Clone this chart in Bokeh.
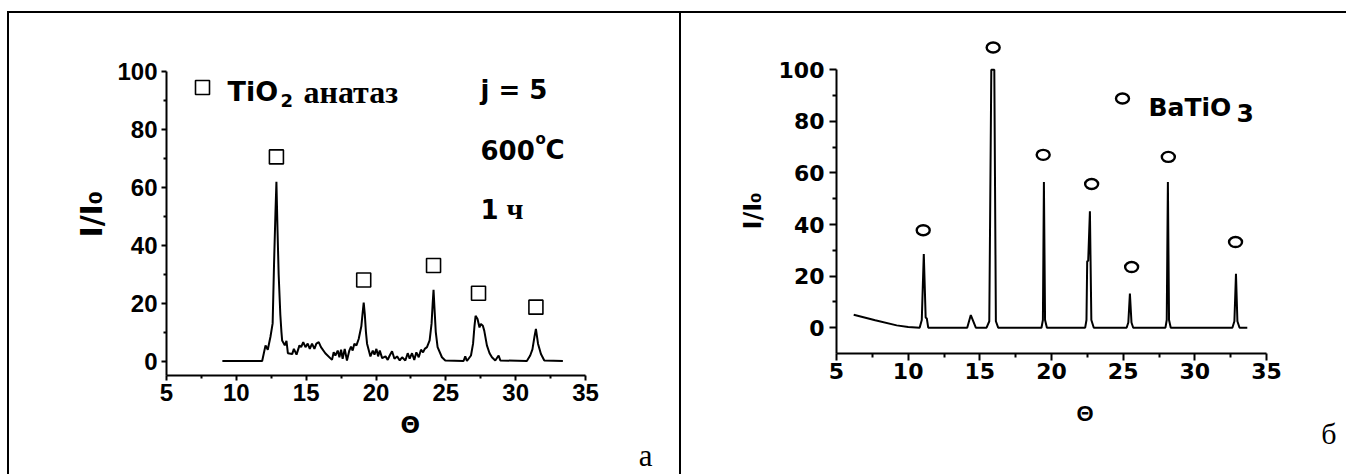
from bokeh.plotting import figure
from bokeh.layouts import row
from bokeh.models import Range1d, FixedTicker, Label, Title
from bokeh.embed import file_html
from bokeh.resources import INLINE

# ---- panel а: TiO2 (anatase) pattern ----
theta_a = [9.0, 11.85, 12.09, 12.25, 12.44, 12.6, 12.7, 12.8, 12.87, 12.95, 13.03, 13.15, 13.23,
           13.28, 13.47, 13.59, 13.69, 14.0, 14.12, 14.31, 14.52, 14.64, 14.79, 14.95, 15.11,
           15.26, 15.42, 15.59, 15.73, 15.9, 16.06, 16.37, 16.85, 16.97, 17.09, 17.26, 17.38,
           17.5, 17.61, 17.76, 17.92, 18.09, 18.21, 18.33, 18.45, 18.6, 18.76, 18.95, 19.05,
           19.12, 19.2, 19.28, 19.36, 19.6, 19.77, 19.89, 20.03, 20.15, 20.27, 20.44, 20.68,
           20.84, 20.98, 21.15, 21.32, 21.51, 21.7, 21.87, 22.1, 22.27, 22.41, 22.58, 22.74,
           22.89, 23.06, 23.22, 23.37, 23.49, 23.65, 23.84, 23.98, 24.06, 24.12, 24.19, 24.28,
           24.41, 24.72, 24.96, 26.27, 26.39, 26.51, 26.8, 26.95, 27.05, 27.13, 27.27, 27.41,
           27.51, 27.65, 27.75, 27.94, 28.13, 28.3, 28.54, 28.78, 28.9, 30.8, 31.04, 31.2,
           31.35, 31.45, 31.6, 31.81, 32.05, 33.38]
intensity_a = [0.0, 0.0, 5.4, 3.9, 8.3, 13.0, 33.5, 51.0, 61.9, 45.0, 30.0, 16.0, 10.0,
               7.1, 5.4, 7.0, 2.7, 2.4, 4.2, 2.2, 5.4, 4.8, 6.5, 4.8, 6.0,
               4.2, 6.0, 4.2, 6.0, 6.5, 4.8, 2.7, 0.4, 3.0, 1.9, 3.6, 1.3,
               3.9, 0.8, 4.2, 0.2, 3.6, 5.0, 3.6, 6.0, 5.4, 7.6, 12.0, 17.0,
               20.2, 16.0, 10.0, 6.0, 1.6, 3.6, 2.2, 4.2, 1.6, 3.6, 1.0, 1.6,
               0.4, 1.9, 3.4, 0.8, 1.6, 0.2, 1.3, 0.2, 2.7, 0.8, 2.7, 0.4,
               3.0, 1.3, 3.9, 3.0, 4.2, 4.8, 7.1, 13.0, 20.0, 24.6, 18.0, 10.0,
               4.8, 1.3, 0.2, 0.0, 1.6, 0.0, 1.9, 6.0, 12.0, 15.6, 14.5, 11.6,
               12.8, 12.2, 10.5, 5.4, 2.7, 1.3, 0.2, 1.9, 0.2, 0.0, 1.9, 4.0,
               8.5, 11.1, 6.0, 2.4, 0.2, 0.0]
anatase_theta = [12.87, 19.12, 24.12, 27.34, 31.45]
anatase_mark = [70.5, 28.0, 33.0, 23.4, 18.6]

# ---- panel б: BaTiO3 pattern ----
theta_b = [6.2, 7.7, 9.2, 10.0, 10.8, 10.95, 11.09, 11.22, 11.3, 11.4, 14.12, 14.37, 14.72,
           15.47, 15.66, 15.8, 16.01, 16.12, 16.28, 19.3, 19.4, 19.47, 19.55, 19.68,
           22.35, 22.44, 22.49, 22.56, 22.68, 22.78, 22.95, 25.24, 25.36, 25.47, 25.58, 25.7,
           27.95, 28.04, 28.12, 28.2, 28.32, 32.62, 32.76, 32.87, 32.97, 33.12, 33.66]
intensity_b = [5.0, 2.9, 0.9, 0.3, 0.0, 3.0, 28.6, 4.0, 3.6, 0.0, 0.0, 4.9, 0.0,
               0.0, 2.5, 100.0, 100.0, 2.5, 0.0, 0.0, 3.0, 56.5, 3.0, 0.0,
               0.0, 3.0, 25.7, 26.0, 45.1, 3.0, 0.0, 0.0, 2.0, 13.2, 2.0, 0.0,
               0.0, 3.0, 56.5, 3.0, 0.0, 0.0, 2.5, 20.9, 2.5, 0.0, 0.0]
batio3_theta = [11.05, 15.93, 19.42, 22.8, 25.59, 28.15, 32.84]
batio3_mark = [37.8, 108.6, 67.0, 55.7, 23.5, 66.2, 33.2]

x_ticks = [5, 10, 15, 20, 25, 30, 35]
x_minor = [7.5, 12.5, 17.5, 22.5, 27.5, 32.5]
y_ticks = [0, 20, 40, 60, 80, 100]
y_minor = [10, 30, 50, 70, 90]

# page geometry (px): canvas origin/size and frame edges of each panel
A = dict(x0=9, y0=13, w=674, h=463, left=166, right=585, top=71, bottom=375,
         xr=(5, 35), yr=(-5, 100))
B = dict(x0=685, y0=13, w=665, h=463, left=840, right=1270, top=30, bottom=353,
         xr=(5, 35), yr=(-10, 115.2))

BORDER = "2px solid black"


def to_data(g, px, py):
    x = g["xr"][0] + (px - g["left"]) / (g["right"] - g["left"]) * (g["xr"][1] - g["xr"][0])
    y = g["yr"][0] + (g["bottom"] - py) / (g["bottom"] - g["top"]) * (g["yr"][1] - g["yr"][0])
    return x, y


def make_fig(g, styles):
    p = figure(width=g["w"], height=g["h"], x_range=Range1d(*g["xr"]), y_range=Range1d(*g["yr"]),
               output_backend="svg", toolbar_location=None,
               min_border_left=g["left"] - g["x0"],
               min_border_right=g["x0"] + g["w"] - g["right"],
               min_border_top=g["top"] - g["y0"],
               min_border_bottom=g["y0"] + g["h"] - g["bottom"],
               outline_line_color=None, background_fill_color="white",
               border_fill_color="white", styles=styles)
    p.frame_align = False
    p.xgrid.visible = False
    p.ygrid.visible = False
    p.xaxis.ticker = FixedTicker(ticks=x_ticks, minor_ticks=x_minor)
    p.yaxis.ticker = FixedTicker(ticks=y_ticks, minor_ticks=y_minor)
    for ax in (p.xaxis[0], p.yaxis[0]):
        ax.axis_line_width = 2
        ax.major_tick_line_width = 2
        ax.minor_tick_line_width = 2
        ax.major_tick_in = 0
        ax.minor_tick_in = 0
        ax.major_label_text_font_style = "bold"
        ax.major_label_text_color = "black"
    return p


def label(p, g, px, py, text, size, font="DejaVu Sans", style="bold"):
    x, y = to_data(g, px, py)
    p.add_layout(Label(x=x, y=y, text=text, text_font=font, text_font_size=f"{size}px",
                       text_font_style=style, text_align="left", text_baseline="alphabetic",
                       text_color="black"))


def side_title(p, side, text, size, font, style, align, offset, standoff, valign="bottom"):
    p.add_layout(Title(text=text, align=align, offset=offset, standoff=standoff,
                       vertical_align=valign, text_font=font, text_font_style=style,
                       text_font_size=f"{size}px", text_color="black"), side)


# ---------------- panel а ----------------
pa = make_fig(A, {"margin-left": "7px", "margin-top": "11px", "border-left": BORDER,
                  "border-top": BORDER, "border-right": BORDER})
for ax in (pa.xaxis[0], pa.yaxis[0]):
    ax.major_tick_out = 5
    ax.minor_tick_out = 3
    ax.major_label_text_font = "Liberation Sans"
    ax.major_label_text_font_size = "24px"
pa.xaxis.major_label_standoff = 3
pa.yaxis.major_label_standoff = 4

pa.line(theta_a, intensity_a, line_color="black", line_width=2)
pa.scatter(anatase_theta, anatase_mark, marker="square", size=14, fill_color=None,
           line_color="black", line_width=1.6)
lx, ly = to_data(A, 202, 87)
pa.scatter([lx], [ly], marker="square", size=14, fill_color=None, line_color="black",
           line_width=1.6)

label(pa, A, 227, 91, "TiO", 27)
label(pa, A, 280, 100, "2", 18)
label(pa, A, 303, 91, "анатаз", 32, font="Liberation Serif")
label(pa, A, 480, 89, "j = 5", 26)
label(pa, A, 480, 149, "600", 26)
label(pa, A, 535, 138, "o", 15)
label(pa, A, 545, 149, "C", 26)
label(pa, A, 480, 208, "1", 26)
label(pa, A, 506, 208, "ч", 30, font="Liberation Serif")

side_title(pa, "left", "I/I₀", 30, "DejaVu Sans", "bold", "left", 138, 12)
side_title(pa, "below", "Θ", 23, "DejaVu Sans", "bold", "left", 234, 12)
side_title(pa, "below", "а", 31, "Liberation Serif", "normal", "right", -67, -16)

# ---------------- panel б ----------------
pb = make_fig(B, {"margin-top": "11px", "border-top": BORDER})
pb.yaxis.bounds = (-10, 100)
for ax in (pb.xaxis[0], pb.yaxis[0]):
    ax.major_tick_out = 7
    ax.minor_tick_out = 4
    ax.major_label_text_font = "DejaVu Sans"
    ax.major_label_text_font_size = "22px"
pb.xaxis.major_label_standoff = 2
pb.yaxis.major_label_standoff = 5

pb.line(theta_b, intensity_b, line_color="black", line_width=2)
pb.ellipse(batio3_theta, batio3_mark, width=13, height=10, width_units="screen",
           height_units="screen", fill_color=None, line_color="black", line_width=2.4)
cx, cy = to_data(B, 1126, 98)
pb.ellipse([cx], [cy], width=13, height=10, width_units="screen", height_units="screen",
           fill_color=None, line_color="black", line_width=2.4)

label(pb, B, 1152, 107, "BaTiO", 25)
label(pb, B, 1240, 112, "3", 25)

side_title(pb, "left", "I/I₀", 24, "DejaVu Sans", "bold", "left", 124, 18)
side_title(pb, "below", "Θ", 22, "Liberation Sans", "bold", "left", 240, 34)
side_title(pb, "below", "б", 30, "Liberation Serif", "normal", "right", -70, -51, valign="top")

layout = row(pa, pb)
open("out.html", "w").write(file_html(layout, INLINE))
